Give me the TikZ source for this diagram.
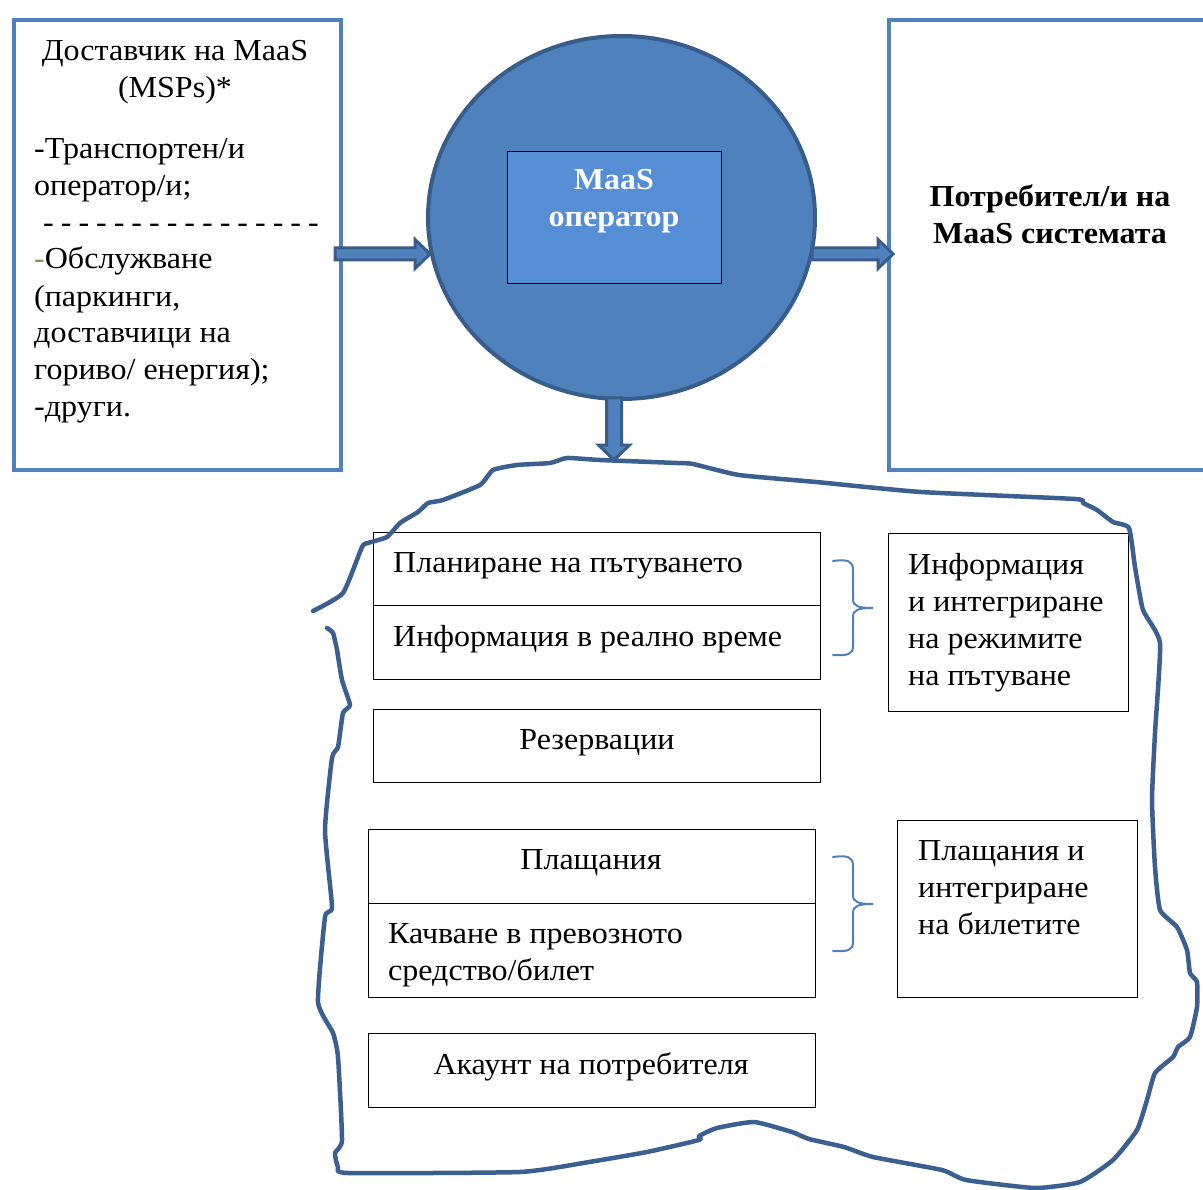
\documentclass[tikz,border=0pt]{standalone}
\usepackage{fontspec}
\setmainfont[FakeStretch=1.05]{Liberation Serif}
\usetikzlibrary{shapes.geometric}
\definecolor{accent}{HTML}{4F81BD}
\definecolor{accentdark}{HTML}{385D8A}
\definecolor{blobc}{HTML}{3B5F8E}
\definecolor{innerfill}{HTML}{558ED5}
\definecolor{olivec}{HTML}{948A54}
\newcommand{\dsh}{-\hspace{7pt}}
\begin{document}
\begin{tikzpicture}[x=1pt,y=-1pt,
  bluebox/.style={draw=accent, line width=4pt, fill=white, anchor=north west, inner sep=0pt},
  rowbox/.style={draw=black, line width=1pt, fill=white, anchor=north west, inner sep=0pt},
  txt/.style={font=\fontsize{30.5}{37}\selectfont, inner sep=0pt},
  btxt/.style={font=\fontsize{30.5}{37}\selectfont\bfseries, inner sep=0pt},
  blockarrow/.style={draw=accentdark, fill=accent, line width=3pt, line join=miter},
  brace/.style={draw=accent, line width=2pt, line cap=round},
  blob/.style={draw=blobc, line width=4.5pt, line join=round, line cap=round}
]
\useasboundingbox (0,0) rectangle (1203,1190);
\fill[white] (0,0) rectangle (1203,1190);

% boxes
\node[bluebox, minimum width=327pt, minimum height=450pt] (prov) at (12,18) {};
\node[bluebox, minimum width=330pt, minimum height=450pt] (cons) at (887,18) {};

% circle
\node[ellipse, draw=accentdark, fill=accent, line width=4pt, minimum width=387pt, minimum height=363pt, inner sep=0pt] (op) at (621.5,217.5) {};
\node[draw=black, line width=0.8pt, fill=innerfill, minimum width=214pt, minimum height=132pt, inner sep=0pt] (opbox) at (614,217) {};

% texts in top (base anchor = last line baseline)
\node[txt, align=center, anchor=base] (provtitle) at (175,98) {Доставчик на MaaS\\(MSPs)*};
\node[txt, align=left, anchor=base west] (provbody) at (34,417) {-Транспортен/и\\оператор/и;\\\hspace*{9pt}\dsh\dsh\dsh\dsh\dsh\dsh\dsh\dsh\dsh\dsh\dsh\dsh\dsh\dsh\dsh-\\{\color{olivec}-}Обслужване\\(паркинги,\\доставчици на\\гориво/ енергия);\\-други.};
\node[btxt, text=white, align=center, anchor=base] (optxt) at (614,227) {MaaS\\оператор};
\node[btxt, align=center, anchor=base] (constxt) at (1050,244) {Потребител/и на\\MaaS системата};

% arrows
\coordinate (a1s) at (335,254);
\coordinate (a2s) at (812,254);
\coordinate (a3s) at (614,398);
\begin{scope}[shift={(a1s)}]
\draw[blockarrow] (0,-6) -- (80,-6) -- (80,-14.5) -- (95,0) -- (80,14.5) -- (80,6) -- (0,6) -- cycle;
\end{scope}
\begin{scope}[shift={(a2s)}]
\draw[blockarrow] (0,-6) -- (66,-6) -- (66,-14.5) -- (81,0) -- (66,14.5) -- (66,6) -- (0,6) -- cycle;
\end{scope}
\begin{scope}[shift={(a3s)}]
\draw[blockarrow] (-7.5,0) -- (-7.5,47) -- (-15.5,47) -- (0,62) -- (15.5,47) -- (7.5,47) -- (7.5,0) -- cycle;
\end{scope}

% rows
\node[rowbox, minimum width=447pt, minimum height=73pt] (r1) at (373,532) {};
\node[rowbox, minimum width=447pt, minimum height=74pt] (r2) at (373,605) {};
\node[rowbox, minimum width=447pt, minimum height=73pt] (r3) at (373,709) {};
\node[rowbox, minimum width=447pt, minimum height=74pt] (r4) at (368,829) {};
\node[rowbox, minimum width=447pt, minimum height=94pt] (r5) at (368,903) {};
\node[rowbox, minimum width=447pt, minimum height=74pt] (r6) at (368,1033) {};
\node[rowbox, minimum width=240pt, minimum height=178pt] (info) at (888,533) {};
\node[rowbox, minimum width=240pt, minimum height=177pt] (pay) at (897,820) {};

\node[txt, anchor=base west] (t1) at (393,572) {Планиране на пътуването};
\node[txt, anchor=base west] (t2) at (393,646) {Информация в реално време};
\node[txt, anchor=base] (t3) at (597,749) {Резервации};
\node[txt, anchor=base] (t4) at (591,869) {Плащания};
\node[txt, align=left, anchor=base west] (t5) at (388,980) {Качване в превозното\\средство/билет};
\node[txt, anchor=base] (t6) at (591,1074) {Акаунт на потребителя};
\node[txt, align=left, anchor=base west] (tinfo) at (908,685) {Информация\\и интегриране\\на режимите\\на пътуване};
\node[txt, align=left, anchor=base west] (tpay) at (918,934) {Плащания и\\интегриране\\на билетите};

% braces
\draw[brace] (833,561) .. controls (848,559) and (853,561) .. (853,570) -- (853,599) .. controls (853,606) and (858,608) .. (873,608)
  .. controls (858,608) and (853,610) .. (853,617) -- (853,646) .. controls (853,654) and (848,656) .. (833,655);
\draw[brace] (833,857) .. controls (848,855) and (853,857) .. (853,866) -- (853,895) .. controls (853,902) and (858,904) .. (873,904)
  .. controls (858,904) and (853,906) .. (853,913) -- (853,942) .. controls (853,950) and (848,952) .. (833,951);

% blob
\draw[blob] plot[smooth, tension=0.3] coordinates {
(327,628) (333,633) (337,650) (342,680) (350,705) (343,713) (338,747) (332,758) (325,830) (332,907) (325,917) (318,1002) (333,1033) (338,1057) (342,1140) (335,1153) (338,1167) (348,1173) (520,1172) (589,1162) (647,1152) (699,1140) (699,1136) (717,1128) (754,1122) (792,1132) (809,1139) (844,1147) (873,1157) (942,1170) (966,1180) (1035,1188) (1080,1182) (1113,1160) (1137,1130) (1147,1100) (1155,1073) (1173,1057) (1178,1047) (1190,1037) (1197,1007) (1197,982) (1190,973) (1187,950) (1177,927) (1160,910) (1155,867) (1152,800) (1155,733) (1160,643) (1143,610) (1135,567) (1129,528) (1113,522) (1097,510) (1083,503) (1075,499) (921,492) (816,482) (739,475) (693,464) (677,463) (600,460) (567,458) (550,463) (517,465) (493,470) (480,485) (443,500) (428,503) (418,512) (400,523) (387,537) (368,543) (362,547) (343,593) (313,611)};
\end{tikzpicture}
\end{document}
